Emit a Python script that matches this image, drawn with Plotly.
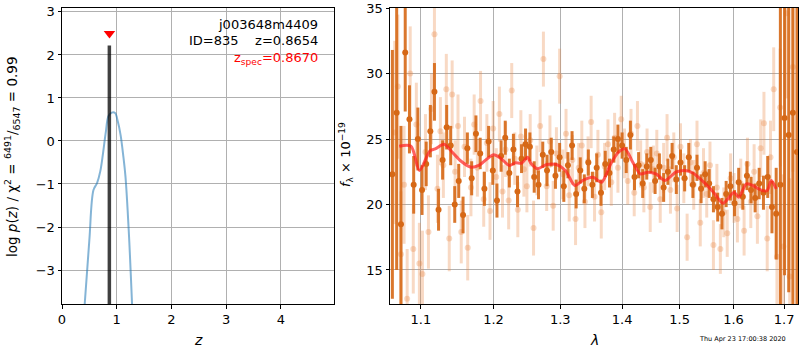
import plotly.graph_objects as go

# ---- redshift probability panel ----
z_grid = [0.415, 0.50, 0.575, 0.64, 0.70, 0.75, 0.80, 0.85, 0.91, 0.97, 1.02, 1.07, 1.12, 1.16, 1.22, 1.28]
logp = [-3.79, -2.30, -1.14, -0.98, -0.70, -0.28, 0.20, 0.58, 0.66, 0.65, 0.45, 0.14, -0.35, -0.83, -2.10, -3.79]
z_best = 0.8654
z_spec = 0.8670
peak_logp = 2.22
marker_logp = 2.50

# ---- spectrum panel: binned points ----
wave_dark = [1.063, 1.0685, 1.074, 1.0795, 1.085, 1.0905, 1.096, 1.1015, 1.107, 1.1125, 1.118, 1.1235, 1.129, 1.1345, 1.140, 1.1455,
             1.151, 1.157, 1.163, 1.169, 1.175, 1.181, 1.187, 1.193, 1.199, 1.205, 1.211, 1.217, 1.223, 1.229, 1.235, 1.241, 1.247,
             1.2535, 1.260, 1.2665, 1.273, 1.2795, 1.286, 1.2925, 1.299, 1.3055, 1.312, 1.3185, 1.325, 1.3315, 1.338, 1.3445,
             1.351, 1.358, 1.365, 1.372, 1.379, 1.386, 1.393, 1.400, 1.407, 1.414, 1.421, 1.428, 1.435, 1.442, 1.449,
             1.4565, 1.464, 1.4715, 1.479, 1.4865, 1.494, 1.5015, 1.509, 1.5165, 1.524, 1.5315, 1.539, 1.5465,
             1.554, 1.562, 1.570, 1.578, 1.586, 1.594, 1.602, 1.610, 1.618, 1.626, 1.634, 1.642,
             1.650, 1.6585, 1.667, 1.6755, 1.684, 1.6925, 1.701, 1.7095, 1.718, 1.7265]
flux_dark = [22.3, 27.0, 18.5, 31.6, 26.5, 21.5, 25.0, 21.1, 23.1, 25.6, 28.6, 19.6, 23.4, 25.9, 24.5, 20.0,
             21.8, 19.2, 24.3, 22.0, 25.4, 23.9, 21.2, 24.8, 22.6, 20.3, 23.7, 25.1, 22.4, 24.2, 21.0, 23.5, 24.6,
             24.4, 22.1, 21.5, 23.8, 22.6, 24.0, 22.2, 23.6, 21.4, 23.0, 24.5, 20.8, 22.6, 21.2, 23.2,
             21.5, 22.8, 20.9, 23.1, 22.4, 24.2, 25.0, 24.5, 23.4, 25.3, 22.1, 23.0, 21.6, 22.9, 23.4,
             21.8, 22.9, 21.3, 22.5, 23.7, 21.9, 23.2, 22.0, 23.6, 21.5, 22.8, 21.2, 22.3,
             21.6, 20.4, 19.8, 19.3, 20.8, 21.4, 20.1, 21.7, 20.6, 22.2, 21.1, 20.5,
             21.6, 20.9, 22.1, 19.8, 19.3, 21.5, 26.6, 25.3, 27.0, 24.0]
err_dark = [9.5, 12.0, 7.5, 4.5, 2.6, 2.2, 2.4, 1.9, 1.7, 2.0, 2.2, 1.6, 1.5, 1.7, 1.5, 1.4,
            1.3, 1.4, 1.2, 1.3, 1.4, 1.2, 1.3, 1.2, 1.1, 1.3, 1.2, 1.3, 1.1, 1.2, 1.2, 1.1, 1.2,
            1.1, 1.2, 1.1, 1.0, 1.2, 1.1, 1.0, 1.1, 1.2, 1.0, 1.1, 1.1, 1.0, 1.1, 1.0,
            1.0, 1.1, 1.0, 1.0, 1.1, 1.0, 1.1, 1.0, 1.0, 1.1, 1.0, 1.0, 1.1, 1.0, 1.0,
            1.0, 1.0, 1.1, 1.0, 1.0, 1.1, 1.0, 1.0, 1.1, 1.0, 1.0, 1.1, 1.0,
            1.1, 1.0, 1.1, 1.2, 1.0, 1.1, 1.0, 1.1, 1.0, 1.1, 1.0, 1.1,
            1.2, 1.3, 1.6, 2.0, 3.5, 14.0, 12.0, 12.0, 15.0, 16.0]

# ---- spectrum panel: individual points ----
wave_light = [1.066, 1.070, 1.074, 1.078, 1.082, 1.086, 1.090, 1.094, 1.098, 1.102, 1.106, 1.110, 1.114, 1.118, 1.122, 1.126,
              1.130, 1.134, 1.138, 1.142, 1.146, 1.150,
              1.1545, 1.159, 1.1635, 1.168, 1.1725, 1.177, 1.1815, 1.186, 1.1905, 1.195, 1.1995, 1.204, 1.2085, 1.213, 1.2175,
              1.222, 1.2265, 1.231, 1.2355, 1.240, 1.2445, 1.249,
              1.254, 1.259, 1.264, 1.269, 1.274, 1.279, 1.284, 1.289, 1.294, 1.299, 1.304, 1.309, 1.314, 1.319, 1.324, 1.329,
              1.334, 1.339, 1.344, 1.349,
              1.3545, 1.360, 1.3655, 1.371, 1.3765, 1.382, 1.3875, 1.393, 1.3985, 1.404, 1.4095, 1.415, 1.4205, 1.426, 1.4315,
              1.437, 1.4425, 1.448, 1.4535,
              1.4595, 1.4655, 1.4715, 1.4775, 1.4835, 1.4895, 1.4955, 1.5015, 1.5075, 1.5135, 1.5195, 1.5255, 1.5315, 1.5375,
              1.5435, 1.5495, 1.5555,
              1.562, 1.5685, 1.575, 1.5815, 1.588, 1.5945, 1.601, 1.6075, 1.614, 1.6205, 1.627, 1.6335, 1.640, 1.6465, 1.653,
              1.6595, 1.666, 1.6725, 1.679, 1.6855, 1.692, 1.6985, 1.705, 1.7115, 1.718]
flux_light = [25.5, 29.0, 16.2, 21.5, 12.8, 30.0, 16.6, 26.1, 15.5, 14.7, 24.0, 17.9, 27.3, 33.0, 21.2, 25.6,
              23.0, 28.8, 17.4, 28.4, 22.5, 26.0,
              17.9, 24.4, 16.7, 21.3, 26.1, 22.8, 27.9, 20.4, 24.7, 19.5, 25.8, 22.1, 26.9, 21.0, 24.2,
              20.3, 28.7, 23.5, 19.6, 25.2, 22.7, 21.4,
              24.9, 18.2, 22.6, 26.0, 31.1, 21.4, 24.8, 19.9, 23.9, 29.8, 22.3, 25.4, 20.7, 23.4, 18.9, 22.8,
              24.5, 20.2, 23.3, 26.3,
              20.6, 23.8, 19.4, 22.9, 24.6, 21.7, 25.1, 22.8, 26.5, 23.9, 21.8, 25.4, 20.9, 26.0, 23.1,
              21.3, 24.0, 19.8, 22.7,
              23.9, 20.4, 22.8, 25.1, 21.1, 23.6, 19.7, 24.4, 22.0, 17.5, 23.2, 21.5, 24.6, 18.6,
              22.4, 20.8, 23.0,
              16.9, 21.3, 16.6, 19.4, 17.8, 22.0, 20.5, 18.9, 21.6, 18.0, 23.1, 20.2, 22.5, 19.1, 24.3,
              26.2, 17.4, 23.6, 28.8, 16.0, 27.4, 16.8, 34.6, 14.5, 30.5]
err_light = [7.0, 5.5, 4.8, 4.5, 3.8, 3.6, 3.4, 3.2, 3.1, 3.3, 2.9, 2.8, 2.7, 2.9, 2.6, 2.6,
             2.5, 2.7, 2.5, 2.6, 2.4, 2.4,
             2.4, 2.3, 2.5, 2.2, 2.3, 2.2, 2.3, 2.1, 2.2, 2.2, 2.1, 2.2, 2.1, 2.0, 2.1,
             2.2, 2.1, 2.0, 2.1, 2.0, 2.1, 2.0,
             2.0, 2.1, 1.9, 2.0, 2.1, 1.9, 2.0, 1.9, 2.0, 2.1, 1.9, 1.9, 2.0, 1.9, 2.0, 1.9,
             1.9, 2.0, 1.9, 2.0,
             1.9, 1.9, 2.0, 1.8, 1.9, 1.8, 1.9, 1.9, 1.8, 1.9, 1.8, 1.9, 1.8, 1.9, 1.8,
             1.9, 1.8, 1.9, 1.8,
             1.8, 1.8, 1.9, 1.8, 1.8, 1.9, 1.8, 1.8, 1.9, 1.8, 1.8, 1.9, 1.8, 1.8,
             1.9, 1.8, 1.8,
             1.9, 1.8, 1.9, 1.9, 1.8, 1.9, 1.9, 1.8, 1.9, 1.9, 2.0, 2.0, 2.1, 2.1, 2.2,
             2.4, 2.5, 2.8, 3.2, 3.6, 4.5, 5.5, 6.5, 7.5, 8.0]

# ---- best-fit model ----
wave_model = [1.0717, 1.087, 1.098, 1.112, 1.119, 1.131, 1.142, 1.153, 1.168, 1.179, 1.200, 1.211, 1.223, 1.232, 1.241,
              1.250, 1.255, 1.265, 1.279, 1.294, 1.308, 1.323, 1.335, 1.352, 1.366, 1.381, 1.394, 1.405, 1.418, 1.431,
              1.444, 1.458, 1.474, 1.493, 1.510, 1.524, 1.544, 1.562, 1.580, 1.592, 1.601, 1.610, 1.625, 1.637, 1.656,
              1.666, 1.674, 1.684]
flux_model = [24.45, 24.45, 22.6, 24.1, 24.25, 24.6, 24.0, 23.36, 22.85, 22.98, 23.8, 23.5, 22.98, 23.18, 23.15,
              23.6, 23.15, 22.73, 23.05, 23.05, 22.6, 21.45, 21.83, 22.08, 21.7, 23.1, 24.0, 24.25, 23.23, 22.34,
              22.47, 22.34, 21.83, 22.47, 22.6, 22.4, 21.7, 20.94, 20.1, 20.56, 20.94, 20.56, 21.58, 21.45, 21.07,
              21.07, 21.83, 21.2]

x_ticks = [1.1, 1.2, 1.3, 1.4, 1.5, 1.6, 1.7]
x_tick_text = ["1.1", "1.2", "1.3", "1.4", "1.5", "1.6", "1.7"]

FONT = "DejaVu Sans"
DARK = "rgb(214,104,22)"
LIGHT = "rgba(232,138,70,0.32)"
GRID = "#b0b0b0"

fig = go.Figure()

# p(z) curve
fig.add_trace(go.Scatter(x=z_grid, y=logp, mode="lines", line=dict(color="rgba(31,119,180,0.55)", width=2, shape="spline"),
                         xaxis="x", yaxis="y", showlegend=False))
# best redshift spike
fig.add_trace(go.Scatter(x=[z_best, z_best], y=[-3.79, peak_logp], mode="lines",
                         line=dict(color="rgba(0,0,0,0.75)", width=3.5), xaxis="x", yaxis="y", showlegend=False))
# spectroscopic redshift marker
fig.add_trace(go.Scatter(x=[z_spec], y=[marker_logp], mode="markers",
                         marker=dict(symbol="triangle-down", color="red", size=10, line=dict(width=0)),
                         xaxis="x", yaxis="y", showlegend=False))

# individual spectrum points
fig.add_trace(go.Scatter(x=wave_light, y=flux_light, mode="markers",
                         marker=dict(color=LIGHT, size=6, line=dict(width=0)),
                         error_y=dict(type="data", array=err_light, color=LIGHT, thickness=3, width=0),
                         xaxis="x2", yaxis="y2", showlegend=False))
# binned spectrum points
fig.add_trace(go.Scatter(x=wave_dark, y=flux_dark, mode="markers",
                         marker=dict(color=DARK, size=6, line=dict(width=0)),
                         error_y=dict(type="data", array=err_dark, color="rgba(214,104,22,0.9)", thickness=3, width=0),
                         xaxis="x2", yaxis="y2", showlegend=False))
# model
fig.add_trace(go.Scatter(x=wave_model, y=flux_model, mode="lines",
                         line=dict(color="rgba(255,30,30,0.7)", width=3, shape="spline", smoothing=0.8),
                         xaxis="x2", yaxis="y2", showlegend=False))

axis_common = dict(showline=True, linecolor="black", linewidth=1, mirror=True, ticks="outside", ticklen=3.5,
                   tickcolor="black", showgrid=True, gridcolor=GRID, gridwidth=0.8, zeroline=False, automargin=False,
                   tickfont=dict(family=FONT, size=13, color="black"))

fig.update_layout(
    width=800, height=350, margin=dict(l=0, r=0, t=0, b=0, autoexpand=False),
    paper_bgcolor="white", plot_bgcolor="white",
    xaxis=dict(domain=[0.0775, 0.4175], range=[0, 4.97], tickvals=[0, 1, 2, 3, 4], anchor="y", **axis_common),
    yaxis=dict(domain=[0.1314, 0.977], range=[-3.79, 3.09], tickvals=[-3, -2, -1, 0, 1, 2, 3], anchor="x", **axis_common),
    xaxis2=dict(domain=[0.4875, 0.9975], type="log", range=[0.0253, 0.2377], tickvals=x_ticks, ticktext=x_tick_text,
                anchor="y2", **axis_common),
    yaxis2=dict(domain=[0.1314, 0.977], range=[12.4, 35.0], tickvals=[15, 20, 25, 30, 35], anchor="x2", **axis_common),
)

ann_font = dict(family=FONT, size=13, color="black")
annotations = [
    dict(text="j003648m4409", xref="x domain", yref="y domain", x=0.95, y=0.943, xanchor="right", yanchor="middle",
         showarrow=False, font=ann_font),
    dict(text="ID=835    z=0.8654", xref="x domain", yref="y domain", x=0.95, y=0.892, xanchor="right", yanchor="middle",
         showarrow=False, font=ann_font),
    dict(text="z<sub>spec</sub>=0.8670", xref="x domain", yref="y domain", x=0.95, y=0.828, xanchor="right",
         yanchor="middle", showarrow=False, font=dict(family=FONT, size=13, color="red")),
    # axis titles
    dict(text="<i>z</i>", xref="paper", yref="paper", x=198 / 800, y=1 - 340 / 350, xanchor="center", yanchor="middle",
         showarrow=False, font=dict(family=FONT, size=14, color="black")),
    dict(text="<i>λ</i>", xref="paper", yref="paper", x=594 / 800, y=1 - 340 / 350, xanchor="center", yanchor="middle",
         showarrow=False, font=dict(family=FONT, size=14, color="black")),
    dict(text="log <i>p</i>(<i>z</i>) / χ<sup>2</sup> = <sup>6491</sup>/<sub>6547</sub> = 0.99", xref="paper", yref="paper",
         x=12 / 800, y=1 - 157 / 350, xanchor="center", yanchor="middle", textangle=-90, showarrow=False,
         font=dict(family=FONT, size=13.5, color="black")),
    dict(text="<i>f</i><sub>λ</sub> × 10<sup>−19</sup>", xref="paper", yref="paper", x=346 / 800, y=1 - 155 / 350,
         xanchor="center", yanchor="middle", textangle=-90, showarrow=False,
         font=dict(family=FONT, size=13, color="black")),
    dict(text="Thu Apr 23 17:00:38 2020", xref="paper", yref="paper", x=788 / 800, y=1 - 339 / 350, xanchor="right",
         yanchor="middle", showarrow=False, font=dict(family=FONT, size=6.5, color="black")),
]
fig.update_layout(annotations=annotations)

fig.write_html("out.html")
